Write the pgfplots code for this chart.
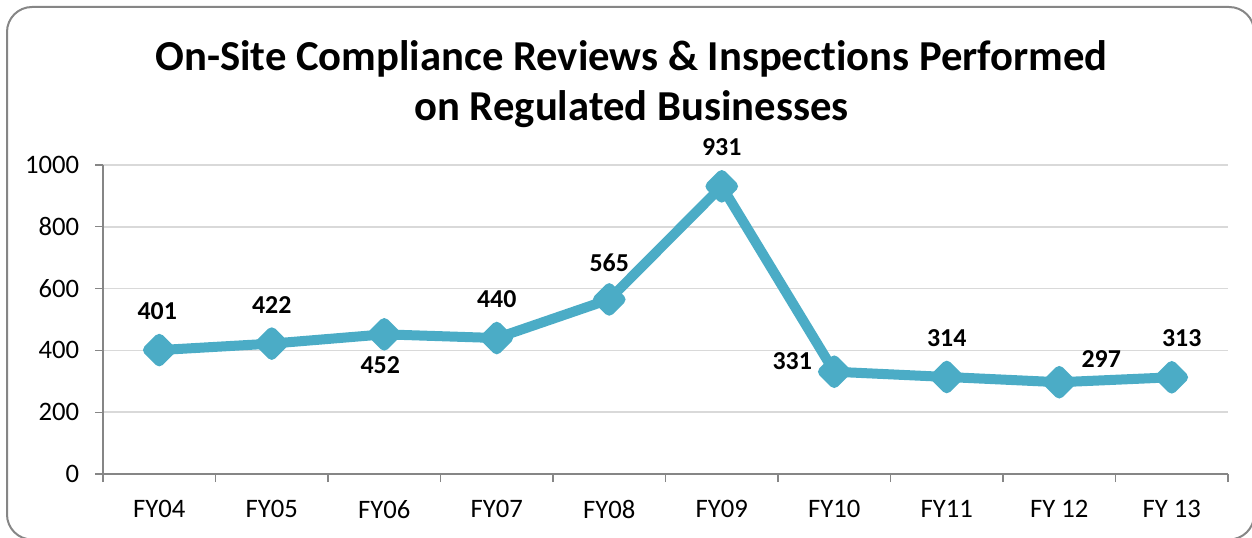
\documentclass[border=0pt]{standalone}
\usepackage{pgfplots}
\pgfplotsset{compat=1.18}
\usepackage{pgfplotstable}
\usepackage{fontspec}
\setmainfont{Carlito}[Ligatures=NoCommon]

\definecolor{lineblue}{HTML}{4BACC6}
\definecolor{axisgray}{HTML}{868686}
\definecolor{gridgray}{HTML}{D9D9D9}

% x = category index, dx/dy = label offset in pt
\pgfplotstableread{
x y dx dy
0 401 -1.2 23.4
1 422 0 23.4
2 452 -2.4 -18.6
3 440 0 23.4
4 565 0 22.2
5 931 0 23.4
6 331 -25.2 6.6
7 314 0 23.4
8 297 25.2 13.8
9 313 6 23.4
}\reviews

\begin{document}
\begin{tikzpicture}
\useasboundingbox (0,0) rectangle (751.2pt,322.2pt);
\draw[axisgray, line width=1.2pt, rounded corners=15pt] (4.2pt,-1.5pt) rectangle (752.5pt,318pt);

\node[anchor=base, font=\bfseries\fontsize{25.6}{30}\selectfont] at (378.9pt,280.2pt)
  {On-Site Compliance Reviews \& Inspections Performed};
\node[anchor=base, font=\bfseries\fontsize{25.6}{30}\selectfont] at (378.9pt,250.2pt)
  {on Regulated Businesses};

\begin{axis}[
  at={(61.8pt,37.8pt)}, anchor=south west,
  scale only axis, width=675pt, height=185.4pt,
  xmin=-0.5, xmax=9.5, ymin=0, ymax=1000,
  axis x line=bottom, axis y line=left,
  axis line style={draw=axisgray, line width=1pt, -},
  xtick={0,...,9},
  xticklabels={FY04,FY05,FY06,FY07,FY08,FY09,FY10,FY11,FY 12,FY 13},
  minor xtick={-0.5,0.5,...,9.5},
  major x tick style={draw=none},
  ytick={0,200,...,1000},
  tick align=outside,
  major tick length=4.8pt, minor tick length=4.8pt,
  tick style={axisgray, line width=0.8pt},
  ymajorgrids, grid style={gridgray, line width=0.9pt},
  tick label style={font=\fontsize{16}{19}\selectfont, black},
  /pgf/number format/assume math mode=true,
  /pgf/number format/1000 sep={},
  yticklabel style={xshift=-6pt},
  xticklabel style={yshift=-7.5pt},
  clip=false,
]
\addplot[lineblue, line width=6pt, line join=round,
  mark=square*, mark size=4.8pt,
  mark options={rotate=45, draw=none, fill=lineblue},
  nodes near coords, point meta=explicit symbolic,
  visualization depends on={\thisrow{dx}\as\dx},
  visualization depends on={\thisrow{dy}\as\dy},
  every node near coord/.append style={anchor=center, xshift=\dx pt, yshift=\dy pt,
    font=\bfseries\fontsize{15.5}{18}\selectfont, text=black}
] table[x=x, y=y, meta=y] {\reviews};
\end{axis}
\end{tikzpicture}
\end{document}
